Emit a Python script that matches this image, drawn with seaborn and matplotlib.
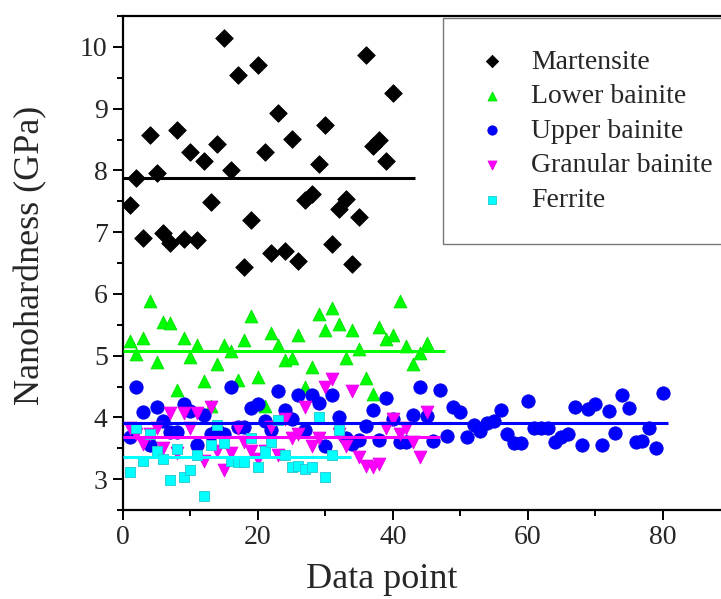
import numpy as np
import pandas as pd
import matplotlib
matplotlib.use("Agg")
import matplotlib.pyplot as plt
from matplotlib.ticker import MultipleLocator
import seaborn as sns

# values (GPa), one point per data index starting at 1
martensite = [7.44, 7.87, 6.90, 8.58, 7.95, 6.99, 6.82, 8.66, 6.89, 8.30,
              6.88, 8.15, 7.49, 8.43, 10.14, 8.00, 9.55, 6.43, 7.20, 9.70,
              8.29, 6.67, 8.93, 6.69, 8.51, 6.54, 7.52, 7.61, 8.11, 8.73,
              6.80, 7.38, 7.54, 6.49, 7.24, 9.87, 8.39, 8.50, 8.15, 9.25]
lower_bainite = [5.24, 5.03, 5.28, 5.88, 4.90, 5.55, 5.53, 4.45, 5.29, 4.97,
                 5.18, 4.59, 4.19, 4.86, 5.18, 5.08, 4.60, 5.25, 5.64, 4.66,
                 4.19, 5.36, 5.18, 4.93, 4.96, 5.33, 4.50, 4.81, 5.67, 5.42,
                 5.77, 5.51, 4.96, 5.42, 5.11, 4.63, 4.38, 5.47, 5.27, 5.33,
                 5.88, 5.16, 4.87, 5.05, 5.21]
upper_bainite = [3.68, 4.50, 4.09, 3.56, 4.17, 3.94, 3.76, 3.77, 4.22, 4.10,
                 3.56, 4.04, 3.73, 3.79, 3.73, 4.50, 3.85, 3.85, 4.15, 4.21,
                 3.94, 3.79, 4.42, 4.12, 3.97, 4.37, 3.79, 4.37, 4.23, 3.53,
                 4.37, 4.00, 3.67, 3.57, 3.64, 3.86, 4.12, 3.64, 4.31, 3.97,
                 3.60, 3.60, 4.04, 4.50, 4.02, 3.62, 4.44, 3.70, 4.16, 4.09,
                 3.68, 3.88, 3.78, 3.91, 3.94, 4.12, 3.73, 3.59, 3.59, 4.27,
                 3.82, 3.82, 3.82, 3.60, 3.68, 3.73, 4.16, 3.56, 4.13, 4.22,
                 3.56, 4.10, 3.74, 4.37, 4.15, 3.60, 3.62, 3.82, 3.51, 4.39]
granular_bainite = [3.82, 3.73, 3.57, 3.73, 3.82, 3.51, 4.07, 3.42, 4.07, 3.82,
                    4.07, 3.30, 4.16, 3.45, 3.14, 3.42, 3.82, 3.60, 3.45, 3.33,
                    3.45, 3.85, 3.39, 3.97, 3.67, 3.73, 4.16, 3.54, 3.67, 4.50,
                    4.62, 3.73, 3.54, 4.42, 3.36, 3.22, 3.20, 3.25, 3.82, 3.97,
                    3.73, 3.82, 3.60, 3.36, 4.09]
ferrite = [3.11, 3.82, 3.30, 3.73, 3.45, 3.33, 2.98, 3.49, 3.03, 3.15,
           3.39, 2.72, 3.56, 3.88, 3.59, 3.30, 3.28, 3.28, 3.67, 3.20,
           3.45, 3.60, 3.96, 3.39, 3.20, 3.22, 3.17, 3.20, 4.00, 3.04,
           3.39, 3.79]

names = ["Martensite", "Lower bainite", "Upper bainite", "Granular bainite", "Ferrite"]
series = [martensite, lower_bainite, upper_bainite, granular_bainite, ferrite]
mean_values = [7.87, 5.07, 3.91, 3.69, 3.36]
line_ends = [43.3, 47.7, 80.8, 47.0, 33.8]

colors = ["#000000", "#00FF00", "#0000FF", "#FF00FF", "#00FFFF"]
edges = ["#000000", "#00E000", "#0000E0", "#E800E8", "#20C8D0"]
markers = ["D", "^", "o", "v", "s"]
sizes = [80, 85, 92, 85, 60]

sns.set_style("ticks")
plt.rcParams["font.family"] = ["Liberation Serif", "DejaVu Serif"]

fig = plt.figure(figsize=(7.21, 5.99), dpi=100)
ax = fig.add_axes([123 / 721, 89 / 599, 607 / 721, 494 / 599])

for name, vals, c, ec, m, s in zip(names, series, colors, edges, markers, sizes):
    df = pd.DataFrame({"point": np.arange(1, len(vals) + 1), "hardness": vals})
    sns.scatterplot(data=df, x="point", y="hardness", marker=m, s=s,
                    color=c, edgecolor=ec, linewidth=0.6, label=name, ax=ax,
                    zorder=3)

# mean value lines
for mval, end, c in zip(mean_values, line_ends, colors):
    ax.hlines(mval, 0, end, colors=c, linewidth=2.2, zorder=4)

ax.set_xlim(0, 90)
ax.set_ylim(2.5, 10.5)
ax.xaxis.set_major_locator(MultipleLocator(20))
ax.xaxis.set_minor_locator(MultipleLocator(10))
ax.yaxis.set_major_locator(MultipleLocator(1))
ax.yaxis.set_minor_locator(MultipleLocator(0.5))
ax.set_yticks([3, 4, 5, 6, 7, 8, 9, 10])
ax.tick_params(which="major", direction="out", length=7, width=1.4,
               labelsize=20, pad=4, color="black")
ax.tick_params(which="minor", direction="out", length=4.5, width=1.4, color="black")
for side in ["left", "bottom", "top", "right"]:
    ax.spines[side].set_linewidth(1.6)
    ax.spines[side].set_color("black")

ax.set_xlabel("Data point", fontsize=26)
ax.set_ylabel("Nanohardness (GPa)", fontsize=26)
ax.xaxis.set_label_coords(0.427, -0.108)
ax.yaxis.set_label_coords(-0.125, 0.516)

leg = ax.legend(loc="upper left", bbox_to_anchor=(443 / 721, 1 - 18 / 599),
                bbox_transform=fig.transFigure, fontsize=20, frameon=True,
                fancybox=False, borderaxespad=0, borderpad=1.12,
                handlelength=1.26, handletextpad=0.8, labelspacing=0.33,
                markerscale=0.7)
leg.get_frame().set_edgecolor("#555555")
leg.get_frame().set_linewidth(1.0)

fig.savefig("out.png", dpi=100)
